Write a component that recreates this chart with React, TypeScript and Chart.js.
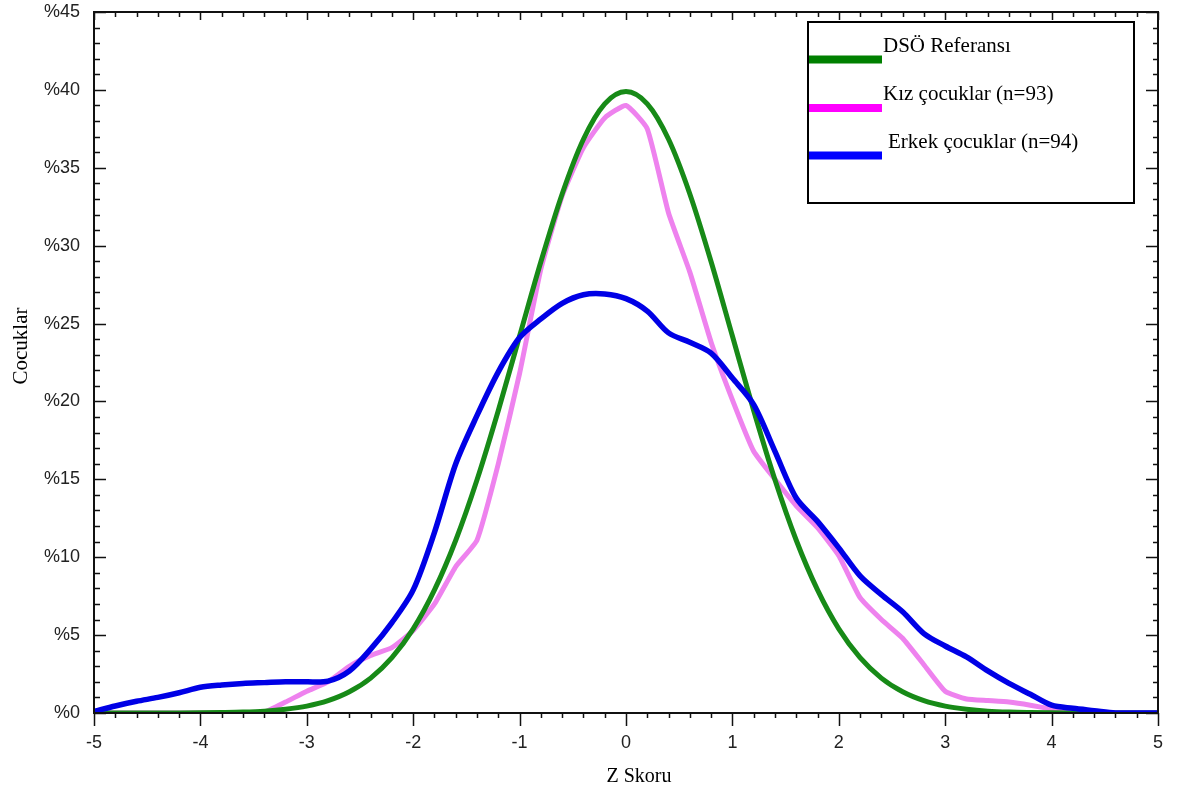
import React, { useEffect, useRef } from "react";
import { Chart, registerables } from "chart.js";

Chart.register(...registerables);

// Z score grid (x values)
const zScores = [
  -5, -4.8, -4.6, -4.4, -4.2, -4, -3.8, -3.6, -3.4, -3.2,
  -3, -2.8, -2.6, -2.4, -2.2, -2, -1.8, -1.6, -1.4, -1.2,
  -1, -0.8, -0.6, -0.4, -0.2, 0, 0.2, 0.4, 0.6, 0.8,
  1, 1.2, 1.4, 1.6, 1.8, 2, 2.2, 2.4, 2.6, 2.8,
  3, 3.2, 3.4, 3.6, 3.8, 4, 4.2, 4.4, 4.6, 4.8, 5,
];

// DSÖ (WHO) reference curve, % of children
const whoReference = [
  0, 0, 0, 0, 0, 0.01, 0.03, 0.06, 0.12, 0.24,
  0.44, 0.79, 1.36, 2.24, 3.55, 5.4, 7.9, 11.09, 14.97, 19.42,
  24.2, 28.97, 33.32, 36.83, 39.1, 39.89, 39.1, 36.83, 33.32, 28.97,
  24.2, 19.42, 14.97, 11.09, 7.9, 5.4, 3.55, 2.24, 1.36, 0.79,
  0.44, 0.24, 0.12, 0.06, 0.03, 0.01, 0, 0, 0, 0, 0,
];

// Girls (n=93)
const girls = [
  0, 0, 0, 0, 0, 0, 0, 0, 0.05, 0.7,
  1.4, 2.0, 3.0, 3.7, 4.2, 5.3, 7.0, 9.4, 11.1, 16.0,
  21.8, 28.5, 33.2, 36.3, 38.2, 39.0, 37.5, 32.1, 28.3, 23.8,
  20.1, 16.8, 15.0, 13.3, 11.9, 10.1, 7.4, 6.0, 4.8, 3.1,
  1.4, 0.9, 0.8, 0.7, 0.5, 0.25, 0.05, 0, 0, 0, 0,
];

// Boys (n=94)
const boys = [
  0.1, 0.45, 0.75, 1.0, 1.3, 1.65, 1.8, 1.9, 1.95, 2.0,
  2.0, 2.05, 2.7, 4.1, 5.8, 7.9, 11.6, 16.0, 19.1, 21.9,
  24.1, 25.3, 26.3, 26.85, 26.9, 26.6, 25.8, 24.4, 23.8, 23.1,
  21.5, 19.8, 16.8, 13.8, 12.3, 10.6, 8.8, 7.6, 6.5, 5.1,
  4.3, 3.6, 2.7, 1.9, 1.2, 0.5, 0.3, 0.15, 0, 0, 0,
];

const seriesLabels = ["DSÖ Referansı", "Kız çocuklar (n=93)", "Erkek çocuklar (n=94)"];
const lineColors = ["#178a17", "#ee82ee", "#0000e6"];
const legendColors = ["#008000", "#ff00ff", "#0000ff"];
const xTitle = "Z Skoru";
const yTitle = "Cocuklar";

const SANS = "'Liberation Sans', Arial, sans-serif";
const SERIF = "'Liberation Serif', 'Times New Roman', serif";

const toPoints = (vals: number[]) => vals.map((v, i) => ({ x: zScores[i], y: v }));

const framePlugin = {
  id: "frameTicks",
  afterDatasetsDraw(chart: any) {
    const { ctx, chartArea: a, scales } = chart;
    const x = scales.x;
    const y = scales.y;
    ctx.save();
    ctx.strokeStyle = "#111";
    ctx.lineWidth = 1.5;
    ctx.beginPath();
    for (let i = 0; i <= 50; i++) {
      const v = -5 + i * 0.2;
      const px = Math.round(x.getPixelForValue(v)) + 0.5;
      const major = i % 5 === 0;
      ctx.moveTo(px, a.bottom);
      ctx.lineTo(px, a.bottom + (major ? 13 : 5));
      ctx.moveTo(px, a.top);
      ctx.lineTo(px, a.top + (major ? 8 : 5));
    }
    for (let j = 0; j <= 45; j++) {
      const py = Math.round(y.getPixelForValue(j)) + 0.5;
      const major = j % 5 === 0;
      ctx.moveTo(a.left, py);
      ctx.lineTo(a.left + (major ? 12 : 6), py);
      ctx.moveTo(a.right, py);
      ctx.lineTo(a.right - (major ? 12 : 5), py);
    }
    ctx.stroke();
    ctx.lineWidth = 2;
    ctx.strokeRect(a.left, a.top, a.right - a.left, a.bottom - a.top);
    ctx.restore();
  },
  afterDraw(chart: any) {
    const { ctx } = chart;
    ctx.save();
    // axis titles
    ctx.fillStyle = "#000";
    ctx.font = `20px ${SERIF}`;
    ctx.textAlign = "center";
    ctx.textBaseline = "middle";
    ctx.fillText(xTitle, 639, 777);
    ctx.save();
    ctx.translate(21, 346);
    ctx.rotate(-Math.PI / 2);
    ctx.font = `21px ${SERIF}`;
    ctx.fillText(yTitle, 0, 0);
    ctx.restore();

    // legend box
    const bx = 808, by = 22, bw = 326, bh = 181;
    ctx.fillStyle = "#fff";
    ctx.fillRect(bx, by, bw, bh);
    ctx.strokeStyle = "#000";
    ctx.lineWidth = 2;
    ctx.strokeRect(bx, by, bw, bh);
    const lineYs = [59.5, 108, 155.5];
    const textYs = [46, 94, 142];
    const textXs = [883, 883, 888];
    ctx.font = `21px ${SERIF}`;
    ctx.textAlign = "left";
    ctx.textBaseline = "middle";
    chart.data.datasets.forEach((ds: any, i: number) => {
      ctx.fillStyle = ds.legendColor;
      ctx.fillRect(809, lineYs[i] - 4, 73, 8);
      ctx.fillStyle = "#000";
      ctx.fillText(ds.label, textXs[i], textYs[i]);
    });
    ctx.restore();
  },
};

export default function App() {
  const ref = useRef<HTMLCanvasElement | null>(null);
  useEffect(() => {
    if (!ref.current) return;
    const chart = new Chart(ref.current, {
      type: "line",
      data: {
        datasets: [
          {
            label: seriesLabels[0],
            data: toPoints(whoReference),
            borderColor: lineColors[0],
            borderWidth: 5,
            pointRadius: 0,
            cubicInterpolationMode: "monotone",
            order: 1,
            legendColor: legendColors[0],
          } as any,
          {
            label: seriesLabels[1],
            data: toPoints(girls),
            borderColor: lineColors[1],
            borderWidth: 5,
            pointRadius: 0,
            tension: 0.15,
            order: 2,
            legendColor: legendColors[1],
          } as any,
          {
            label: seriesLabels[2],
            data: toPoints(boys),
            borderColor: lineColors[2],
            borderWidth: 5.5,
            pointRadius: 0,
            tension: 0.3,
            order: 0,
            legendColor: legendColors[2],
          } as any,
        ],
      },
      options: {
        responsive: false,
        animation: false,
        devicePixelRatio: 1,
        layout: { padding: { top: 12, right: 33, left: 0, bottom: 0 } },
        plugins: {
          legend: { display: false },
          title: { display: false },
          tooltip: { enabled: false },
        },
        scales: {
          x: {
            type: "linear",
            min: -5,
            max: 5,
            grid: { display: false, drawTicks: false },
            border: { display: false },
            ticks: {
              stepSize: 1,
              autoSkip: false,
              maxRotation: 0,
              padding: 19,
              color: "#222",
              font: { family: SANS, size: 18 },
            },
            afterFit(s: any) {
              s.height = 83;
              s.paddingLeft = 0;
              s.paddingRight = 0;
            },
          },
          y: {
            type: "linear",
            min: 0,
            max: 45,
            grid: { display: false, drawTicks: false },
            border: { display: false },
            ticks: {
              stepSize: 5,
              autoSkip: false,
              padding: 14,
              color: "#222",
              font: { family: SANS, size: 18 },
              callback: (v: any) => "%" + v,
            },
            afterFit(s: any) {
              s.width = 94;
              s.paddingTop = 0;
              s.paddingBottom = 0;
            },
          },
        },
      } as any,
      plugins: [framePlugin],
    });
    return () => chart.destroy();
  }, []);
  return (
    <div style={{ position: "absolute", left: 0, top: 0, width: 1191, height: 796, background: "#fff" }}>
      <canvas ref={ref} width={1191} height={796} />
    </div>
  );
}
